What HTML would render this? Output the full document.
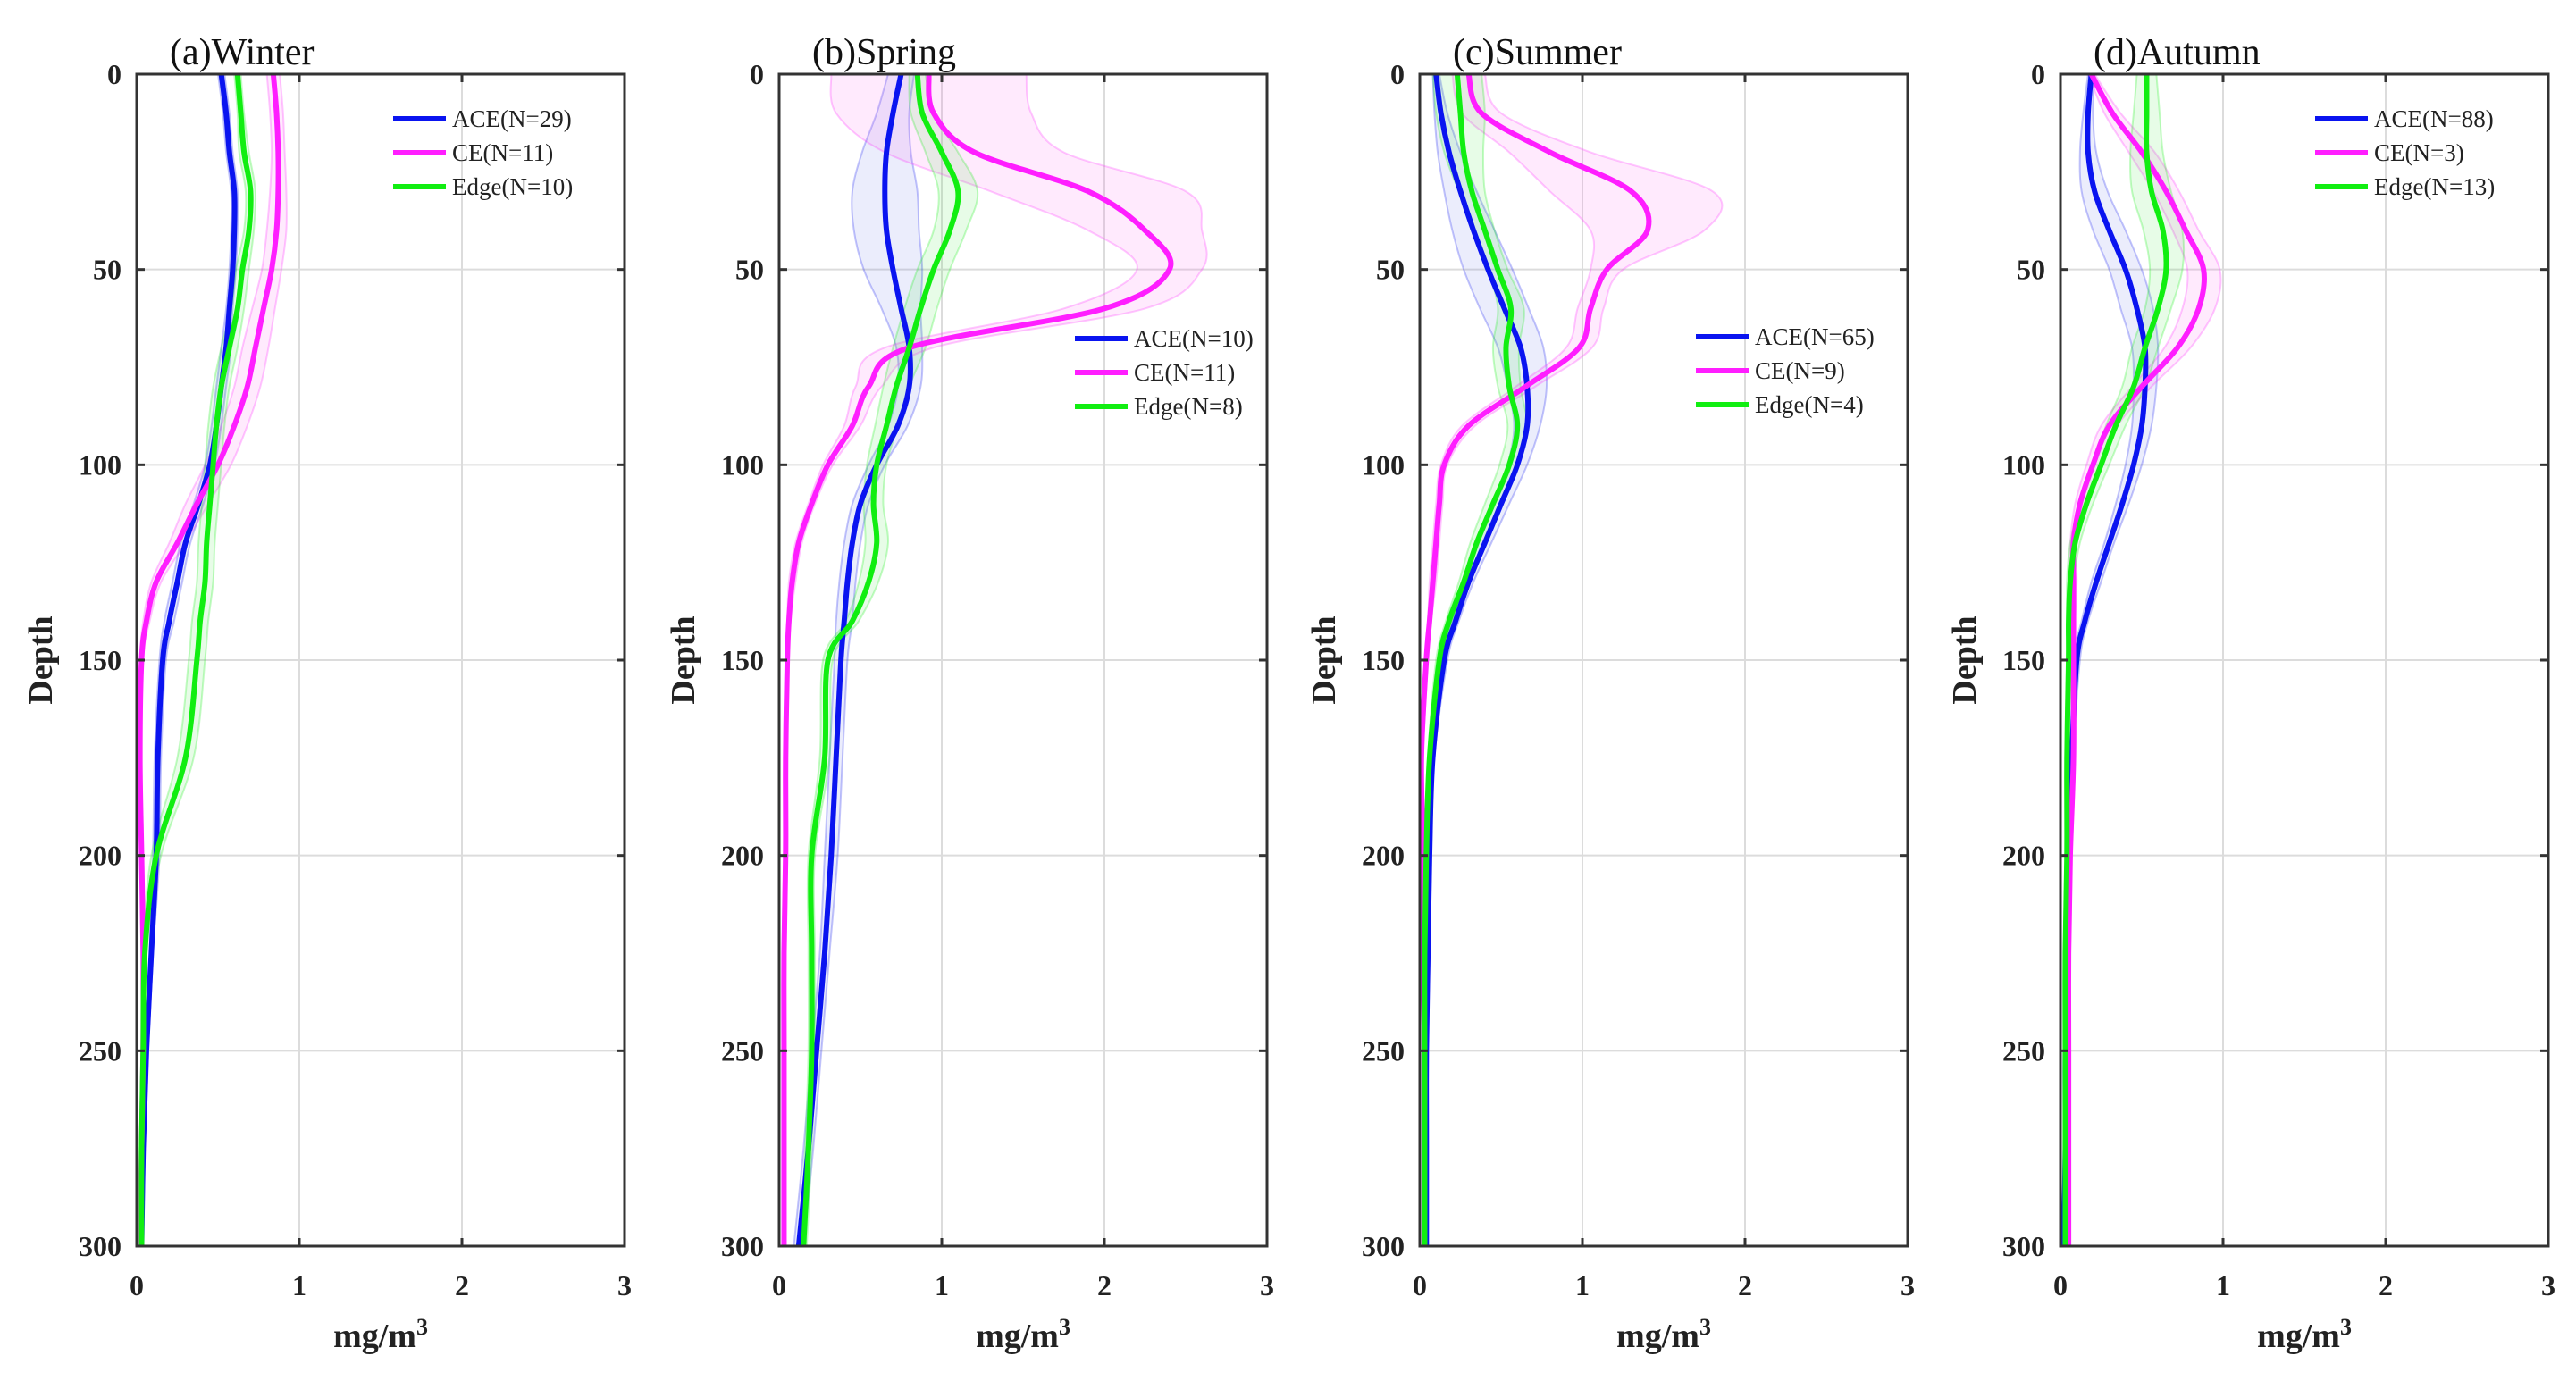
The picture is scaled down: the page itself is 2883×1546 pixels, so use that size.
<!DOCTYPE html>
<html><head><meta charset="utf-8"><style>
html,body{margin:0;padding:0;background:#fff}
svg{display:block}
text{font-family:"Liberation Serif",serif}
</style></head><body>
<svg id="chart" width="2883" height="1546" viewBox="0 0 2883 1546" xmlns="http://www.w3.org/2000/svg"></svg>
<script>
const depths=[0,10,20,30,40,50,60,70,80,90,100,110,120,130,140,150,175,200,225,250,275,300];
const xTicks=[0,1,2,3];
const yTicks=[0,50,100,150,200,250,300];
const panelTitles=["(a)Winter","(b)Spring","(c)Summer","(d)Autumn"];
const seriesNames=["ACE","CE","Edge"];
const legendN=[[29,11,10],[10,11,8],[65,9,4],[88,3,13]];
// Winter
const winterACE=[0.52,0.55,0.57,0.6,0.6,0.59,0.57,0.55,0.52,0.49,0.45,0.38,0.3,0.25,0.2,0.16,0.13,0.12,0.09,0.06,0.04,0.03];
const winterCE=[0.84,0.86,0.87,0.87,0.86,0.83,0.78,0.73,0.68,0.6,0.5,0.37,0.25,0.12,0.06,0.03,0.02,0.03,0.04,0.04,0.03,0.02];
const winterEdge=[0.62,0.64,0.66,0.7,0.69,0.65,0.62,0.57,0.52,0.49,0.47,0.45,0.43,0.42,0.39,0.37,0.3,0.12,0.05,0.04,0.03,0.03];
const winterBand=[[0.02,0.02,0.02,0.02,0.02,0.02,0.02,0.03,0.03,0.03,0.03,0.03,0.03,0.03,0.03,0.02,0.02,0.02,0.01,0.01,0.01,0.01],
 [0.04,0.04,0.04,0.05,0.06,0.06,0.07,0.08,0.08,0.08,0.08,0.07,0.05,0.03,0.02,0.01,0.01,0.01,0.01,0.01,0.01,0.01],
 [0.02,0.02,0.03,0.03,0.03,0.04,0.04,0.05,0.05,0.05,0.05,0.05,0.05,0.05,0.05,0.05,0.05,0.03,0.01,0.01,0.01,0.01]];
// Spring
const springACE=[0.75,0.7,0.66,0.65,0.66,0.7,0.75,0.8,0.8,0.73,0.6,0.5,0.45,0.42,0.4,0.38,0.35,0.32,0.28,0.23,0.18,0.12];
const springCE=[0.92,0.95,1.2,1.9,2.25,2.4,2.0,0.8,0.55,0.45,0.3,0.2,0.12,0.08,0.06,0.05,0.04,0.04,0.03,0.03,0.03,0.03];
const springEdge=[0.85,0.88,1.0,1.1,1.05,0.95,0.87,0.8,0.72,0.66,0.6,0.58,0.6,0.55,0.45,0.3,0.28,0.2,0.2,0.2,0.18,0.15];
const springBand=[[0.08,0.1,0.15,0.2,0.2,0.18,0.12,0.08,0.07,0.06,0.05,0.05,0.05,0.05,0.05,0.04,0.04,0.04,0.03,0.03,0.03,0.03],
 [0.6,0.6,0.55,0.6,0.35,0.2,0.25,0.15,0.08,0.05,0.03,0.02,0.02,0.02,0.01,0.01,0.01,0.01,0.01,0.01,0.01,0.01],
 [0.05,0.07,0.1,0.12,0.1,0.1,0.1,0.1,0.08,0.07,0.06,0.06,0.07,0.06,0.04,0.03,0.03,0.02,0.02,0.02,0.02,0.02]];
// Summer
const summerACE=[0.1,0.13,0.18,0.25,0.33,0.42,0.52,0.62,0.66,0.66,0.6,0.5,0.4,0.3,0.22,0.15,0.08,0.06,0.05,0.04,0.04,0.04];
const summerCE=[0.3,0.38,0.8,1.3,1.4,1.15,1.05,0.98,0.65,0.3,0.15,0.12,0.1,0.08,0.06,0.04,0.01,0.02,0.02,0.03,0.03,0.03];
const summerEdge=[0.23,0.25,0.27,0.32,0.4,0.48,0.56,0.53,0.55,0.6,0.55,0.45,0.35,0.27,0.18,0.12,0.06,0.04,0.03,0.03,0.03,0.03];
const summerBand=[[0.02,0.04,0.07,0.1,0.13,0.15,0.15,0.14,0.12,0.08,0.06,0.05,0.04,0.03,0.02,0.02,0.01,0.01,0.01,0.01,0.01,0.01],
 [0.1,0.12,0.25,0.5,0.35,0.1,0.08,0.08,0.06,0.04,0.02,0.02,0.02,0.02,0.01,0.01,0.01,0.01,0.01,0.01,0.01,0.01],
 [0.15,0.15,0.12,0.08,0.06,0.06,0.08,0.08,0.07,0.06,0.06,0.05,0.04,0.03,0.02,0.02,0.01,0.01,0.01,0.01,0.01,0.01]];
// Autumn
const autumnACE=[0.19,0.17,0.17,0.21,0.3,0.4,0.47,0.52,0.52,0.5,0.45,0.38,0.3,0.22,0.15,0.1,0.07,0.05,0.04,0.03,0.03,0.02];
const autumnCE=[0.19,0.32,0.5,0.65,0.77,0.88,0.85,0.72,0.5,0.3,0.2,0.12,0.08,0.08,0.08,0.08,0.08,0.06,0.05,0.05,0.05,0.05];
const autumnEdge=[0.53,0.53,0.53,0.56,0.63,0.65,0.6,0.52,0.45,0.34,0.25,0.16,0.09,0.06,0.05,0.05,0.04,0.04,0.03,0.03,0.03,0.03];
const autumnBand=[[0.02,0.03,0.05,0.08,0.1,0.1,0.1,0.08,0.07,0.06,0.05,0.04,0.03,0.03,0.02,0.02,0.01,0.01,0.01,0.01,0.01,0.01],
 [0.02,0.05,0.08,0.08,0.08,0.1,0.1,0.08,0.06,0.05,0.04,0.03,0.02,0.02,0.01,0.01,0.01,0.01,0.01,0.01,0.01,0.01],
 [0.06,0.08,0.1,0.12,0.12,0.1,0.08,0.08,0.07,0.06,0.05,0.04,0.03,0.02,0.01,0.01,0.01,0.01,0.01,0.01,0.01,0.01]];

const panelData=[[winterACE,winterCE,winterEdge],[springACE,springCE,springEdge],[summerACE,summerCE,summerEdge],[autumnACE,autumnCE,autumnEdge]];
const panelBands=[winterBand,springBand,summerBand,autumnBand];
const panelLeft=[153,872,1589,2306];
const legendPos=[[440,133],[1203,379],[1898,377],[2591,133]];
const colors=["#0a14f0","#ff1eff","#11ee11"];
const bandColors=["rgba(90,110,230,0.12)","rgba(255,80,240,0.12)","rgba(60,230,60,0.12)"];
const W=546,TOP=83,BOT=1395;
const NS="http://www.w3.org/2000/svg";
const svg=document.getElementById('chart');
function mk(tag,attrs,parent){const e=document.createElementNS(NS,tag);for(const k in attrs)e.setAttribute(k,attrs[k]);(parent||svg).appendChild(e);return e;}
function smoothPath(pts){let d=`M${pts[0][0]},${pts[0][1]}`;for(let i=0;i<pts.length-1;i++){const p0=pts[Math.max(i-1,0)],p1=pts[i],p2=pts[i+1],p3=pts[Math.min(i+2,pts.length-1)];const c1=[p1[0]+(p2[0]-p0[0])/6,p1[1]+(p2[1]-p0[1])/6],c2=[p2[0]-(p3[0]-p1[0])/6,p2[1]-(p3[1]-p1[1])/6];d+=` C${c1[0]},${c1[1]} ${c2[0]},${c2[1]} ${p2[0]},${p2[1]}`;}return d;}
panelLeft.forEach((L,pi)=>{
  const xs=v=>L+v/3*W, ys=d=>TOP+d/300*(BOT-TOP);
  const g=mk('g',{});
  
  
  xTicks.slice(1,3).forEach(t=>{const l=mk('line',{x1:xs(t),x2:xs(t),y1:TOP,y2:BOT,stroke:'#dcdcdc','stroke-width':2},g);});
  yTicks.slice(1,6).forEach(t=>{const l=mk('line',{x1:L,x2:L+W,y1:ys(t),y2:ys(t),stroke:'#dcdcdc','stroke-width':2},g);});
  // bands
  panelData[pi].forEach((s,si)=>{
    const b=panelBands[pi][si];
    const up=depths.map((d,i)=>[xs(s[i]+b[i]),ys(d)]);
    const lo=depths.map((d,i)=>[xs(Math.max(0,s[i]-b[i])),ys(d)]).reverse();
    const p=smoothPath(up)+' L'+smoothPath(lo).slice(1)+' Z';
    const e=mk('path',{d:p,fill:bandColors[si],stroke:colors[si],'stroke-opacity':0.25,'stroke-width':2},g);
    
    
  });
  panelData[pi].forEach((s,si)=>{
    const pts=depths.map((d,i)=>[xs(s[i]),ys(d)]);
    const e=mk('path',{d:smoothPath(pts),fill:'none',stroke:colors[si],'stroke-width':6},g);
    
    
  });
  const fr=mk('rect',{x:L,y:TOP,width:W,height:BOT-TOP,fill:'none',stroke:'#333','stroke-width':3},g);
  
  xTicks.forEach(t=>{
    mk('line',{x1:xs(t),x2:xs(t),y1:BOT,y2:BOT-9,stroke:'#333','stroke-width':3},g);
    mk('line',{x1:xs(t),x2:xs(t),y1:TOP,y2:TOP+9,stroke:'#333','stroke-width':3},g);
    const tx=mk('text',{x:xs(t),y:1450,'text-anchor':'middle','font-size':32,'font-weight':'bold',fill:'#222'},g);tx.textContent=t;
    
  });
  yTicks.forEach(t=>{
    mk('line',{x1:L,x2:L+9,y1:ys(t),y2:ys(t),stroke:'#333','stroke-width':3},g);
    mk('line',{x1:L+W,x2:L+W-9,y1:ys(t),y2:ys(t),stroke:'#333','stroke-width':3},g);
    const tx=mk('text',{x:L-17,y:ys(t)+11,'text-anchor':'end','font-size':32,'font-weight':'bold',fill:'#222'},g);tx.textContent=t;
    
  });
  const ti=mk('text',{x:L+37,y:72,'font-size':42,fill:'#111'},g);ti.textContent=panelTitles[pi];
  
  const yl=mk('text',{x:0,y:0,transform:`translate(${L-95},${(TOP+BOT)/2}) rotate(-90)`,'text-anchor':'middle','font-size':38,'font-weight':'bold',fill:'#222'},g);yl.textContent='Depth';
  
  const xl=mk('text',{x:L+W/2,y:1508,'text-anchor':'middle','font-size':38,'font-weight':'bold',fill:'#222'},g);
  xl.innerHTML='mg/m<tspan dy="-14" font-size="26">3</tspan>';
  
  const [lx,ly]=legendPos[pi];
  seriesNames.forEach((n,si)=>{
    const y=ly+si*38;
    const ln=mk('line',{x1:lx,x2:lx+59,y1:y,y2:y,stroke:colors[si],'stroke-width':6},g);
    
    const t=mk('text',{x:lx+66,y:y+9,'font-size':27,fill:'#222'},g);t.textContent=`${n}(N=${legendN[pi][si]})`;
    
  });
});
</script>
</body></html>
